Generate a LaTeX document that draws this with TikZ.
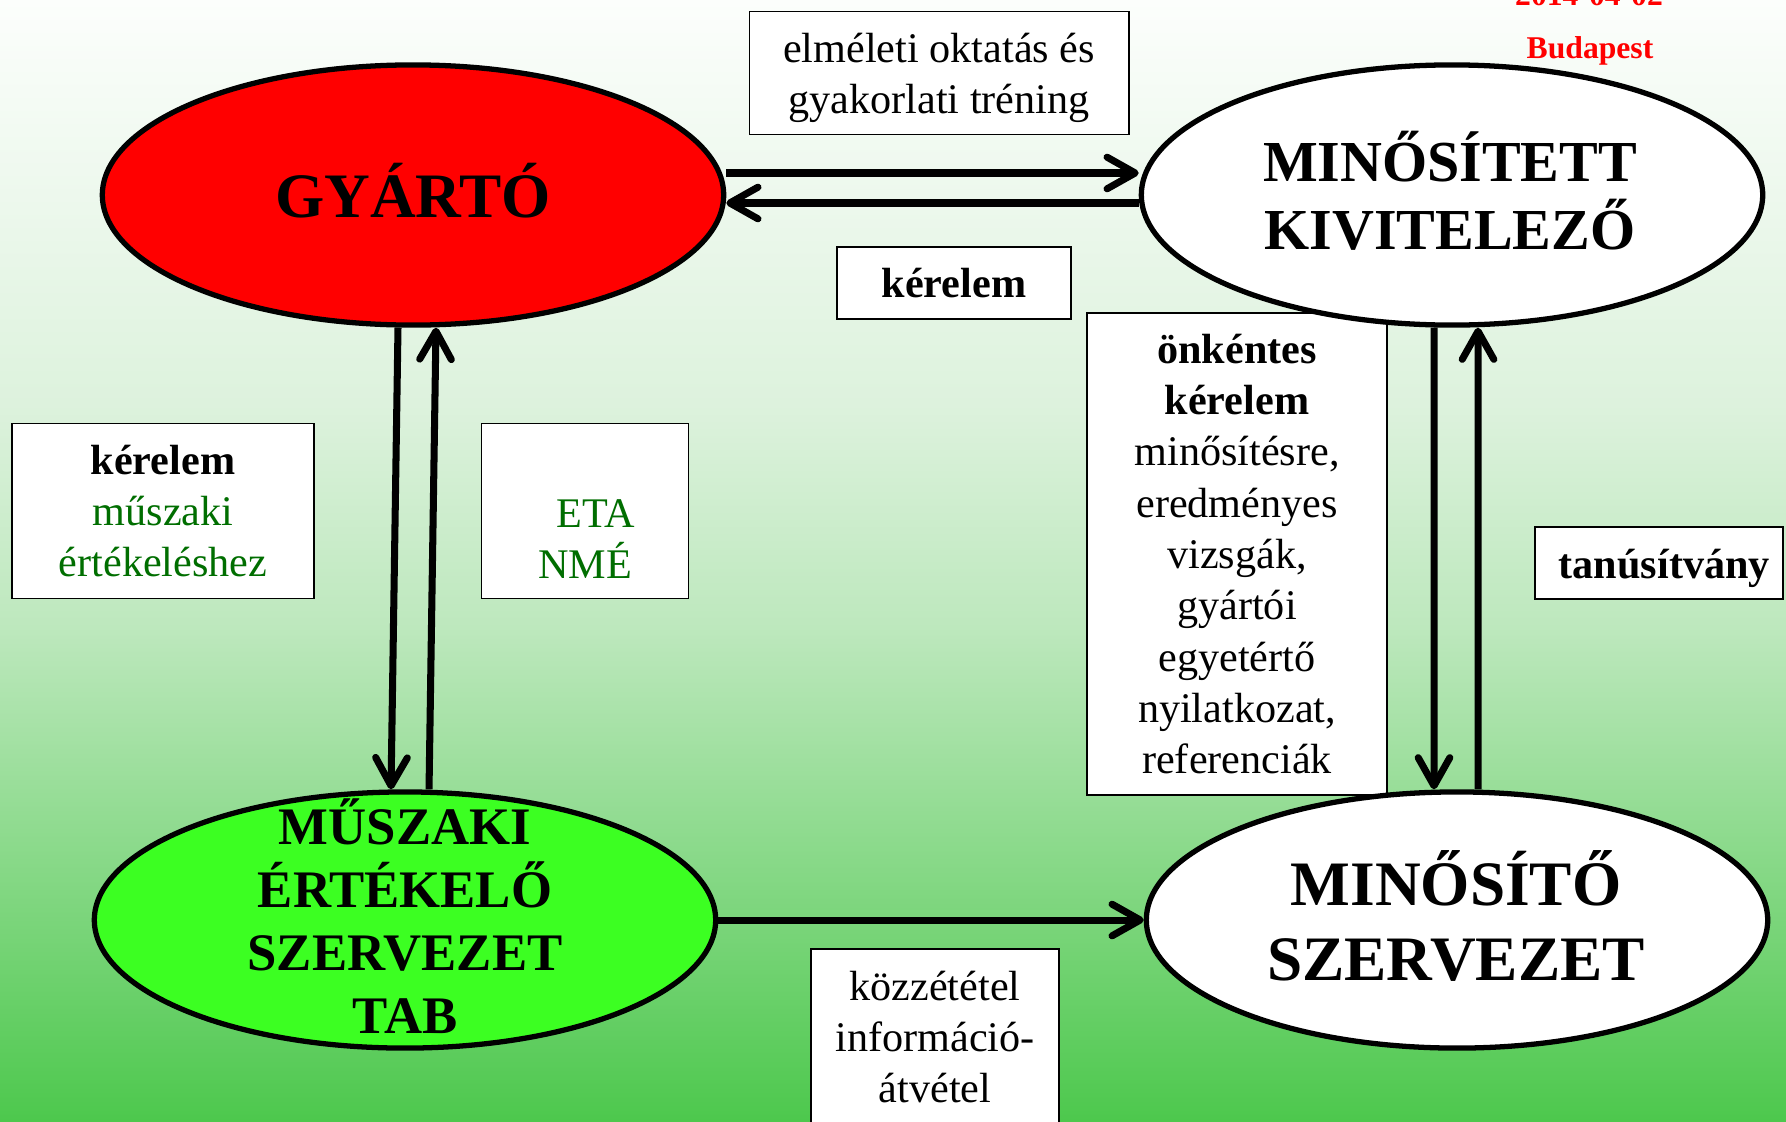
\documentclass[tikz,border=0pt]{standalone}
\usepackage{fontspec}
\setmainfont{Liberation Serif}
\usetikzlibrary{arrows.meta,shapes.geometric}
\definecolor{tgreen}{RGB}{0,110,0}
\definecolor{gyred}{RGB}{255,0,0}
\definecolor{mugreen}{RGB}{60,255,34}
\definecolor{bgA}{RGB}{77,200,77}
\definecolor{bgB}{RGB}{189,232,189}
\definecolor{bgC}{RGB}{221,242,221}
\definecolor{bgD}{RGB}{252,254,252}
\pgfdeclareverticalshading{bgshade}{100bp}{color(0bp)=(bgA); color(25bp)=(bgA); color(47bp)=(bgB); color(57bp)=(bgC); color(75bp)=(bgD); color(100bp)=(bgD)}
\begin{document}
\begin{tikzpicture}[x=0.01cm,y=-0.01cm,
  ell/.style={ellipse, draw=black, line width=1.5pt, inner sep=0pt},
  lbl/.style={draw=black, line width=0.5pt, fill=white, align=center, inner sep=0pt,
              font={\fontsize{12}{14.6}\selectfont}},
  bigtxt/.style={align=center, inner sep=0pt},
  arr/.style={line width=2pt, -{Straight Barb[length=8pt,width=9pt,round]}}
]
\useasboundingbox (0,0) rectangle (1786,1121);
\clip (0,0) rectangle (1786,1121);
\shade[shading=bgshade] (0,0) rectangle (1786,1121);

% date / place
\node[text=red, anchor=base, inner sep=0pt, font={\fontsize{9}{11}\selectfont\bfseries}] (dt) at (1589,5) {2014-04-02};
\node[text=red, inner sep=0pt, font={\fontsize{9}{11}\selectfont\bfseries}] (bp) at (1590,51) {Budapest};

% label boxes
\node[lbl, minimum width=3.79cm, minimum height=1.23cm] (b1) at (939,73) {\rule{0pt}{11pt}elméleti oktatás és\\gyakorlati tréning};
\node[lbl, minimum width=2.34cm, minimum height=0.72cm] (b2) at (954,283) {\textbf{kérelem}};
\node[lbl, minimum width=3.02cm, minimum height=1.75cm] (b3) at (163,511) {\textbf{kérelem}\\\textcolor{tgreen}{műszaki}\\\textcolor{tgreen}{értékeléshez}};
\node[lbl, minimum width=2.07cm, minimum height=1.75cm, text=tgreen] (b4) at (585,511) {\rule{0pt}{13.6pt}\\\hspace*{6pt}ETA\\NMÉ\strut};
\node[lbl, minimum width=3.00cm, minimum height=4.82cm] (b5) at (1237,554) {\textbf{önkéntes}\\\textbf{kérelem}\\minősítésre,\\eredményes\\vizsgák,\\gyártói\\egyetértő\\nyilatkozat,\\referenciák};
\node[lbl, minimum width=2.48cm, minimum height=0.72cm] (b6) at (1659,563) {\hspace*{3pt}\rule{0pt}{11.5pt}\textbf{tanúsítvány}};
\node[lbl, minimum width=2.48cm, minimum height=1.76cm] (b7) at (935,1037) {közzététel\\információ-\\átvétel};

% ellipses
\node[ell, fill=gyred, minimum width=6.21cm, minimum height=2.6cm] (gy) at (413,195) {};
\node[ell, fill=white, minimum width=6.21cm, minimum height=2.6cm] (mk) at (1452,195) {};
\node[ell, fill=mugreen, minimum width=6.21cm, minimum height=2.56cm] (mu) at (405,920) {};
\node[ell, fill=white, minimum width=6.21cm, minimum height=2.56cm] (ms) at (1457,920) {};

\node[bigtxt, font={\fontsize{18}{21}\selectfont\bfseries}] (gyt) at (413,191) {GYÁRTÓ};
\node[bigtxt, font={\fontsize{16.5}{19.4}\selectfont\bfseries}] (mkt) at (1450,191) {MINŐSÍTETT\\KIVITELEZŐ};
\node[bigtxt, font={\fontsize{15}{17.9}\selectfont\bfseries}] (mut) at (405,916) {MŰSZAKI\\ÉRTÉKELŐ\\SZERVEZET\\TAB};
\node[bigtxt, font={\fontsize{18}{21.3}\selectfont\bfseries}] (mst) at (1456,916) {MINŐSÍTŐ\\SZERVEZET};

% connectors
\draw[arr] ([yshift=0.22cm]gy.east) -- ([yshift=0.22cm]mk.west);
\draw[arr] ([yshift=-0.08cm]mk.west) -- ([yshift=-0.08cm]gy.east);
\draw[arr] ([xshift=-0.15cm]gy.south) -- ([xshift=-0.14cm]mu.north);
\draw[arr] ([xshift=0.24cm]mu.north) -- ([xshift=0.23cm]gy.south);
\draw[arr] ([xshift=-0.18cm]mk.south) -- ([xshift=-0.23cm]ms.north);
\draw[arr] ([xshift=0.21cm]ms.north) -- ([xshift=0.26cm]mk.south);
\draw[arr] (mu.east) -- (ms.west);
\end{tikzpicture}
\end{document}
